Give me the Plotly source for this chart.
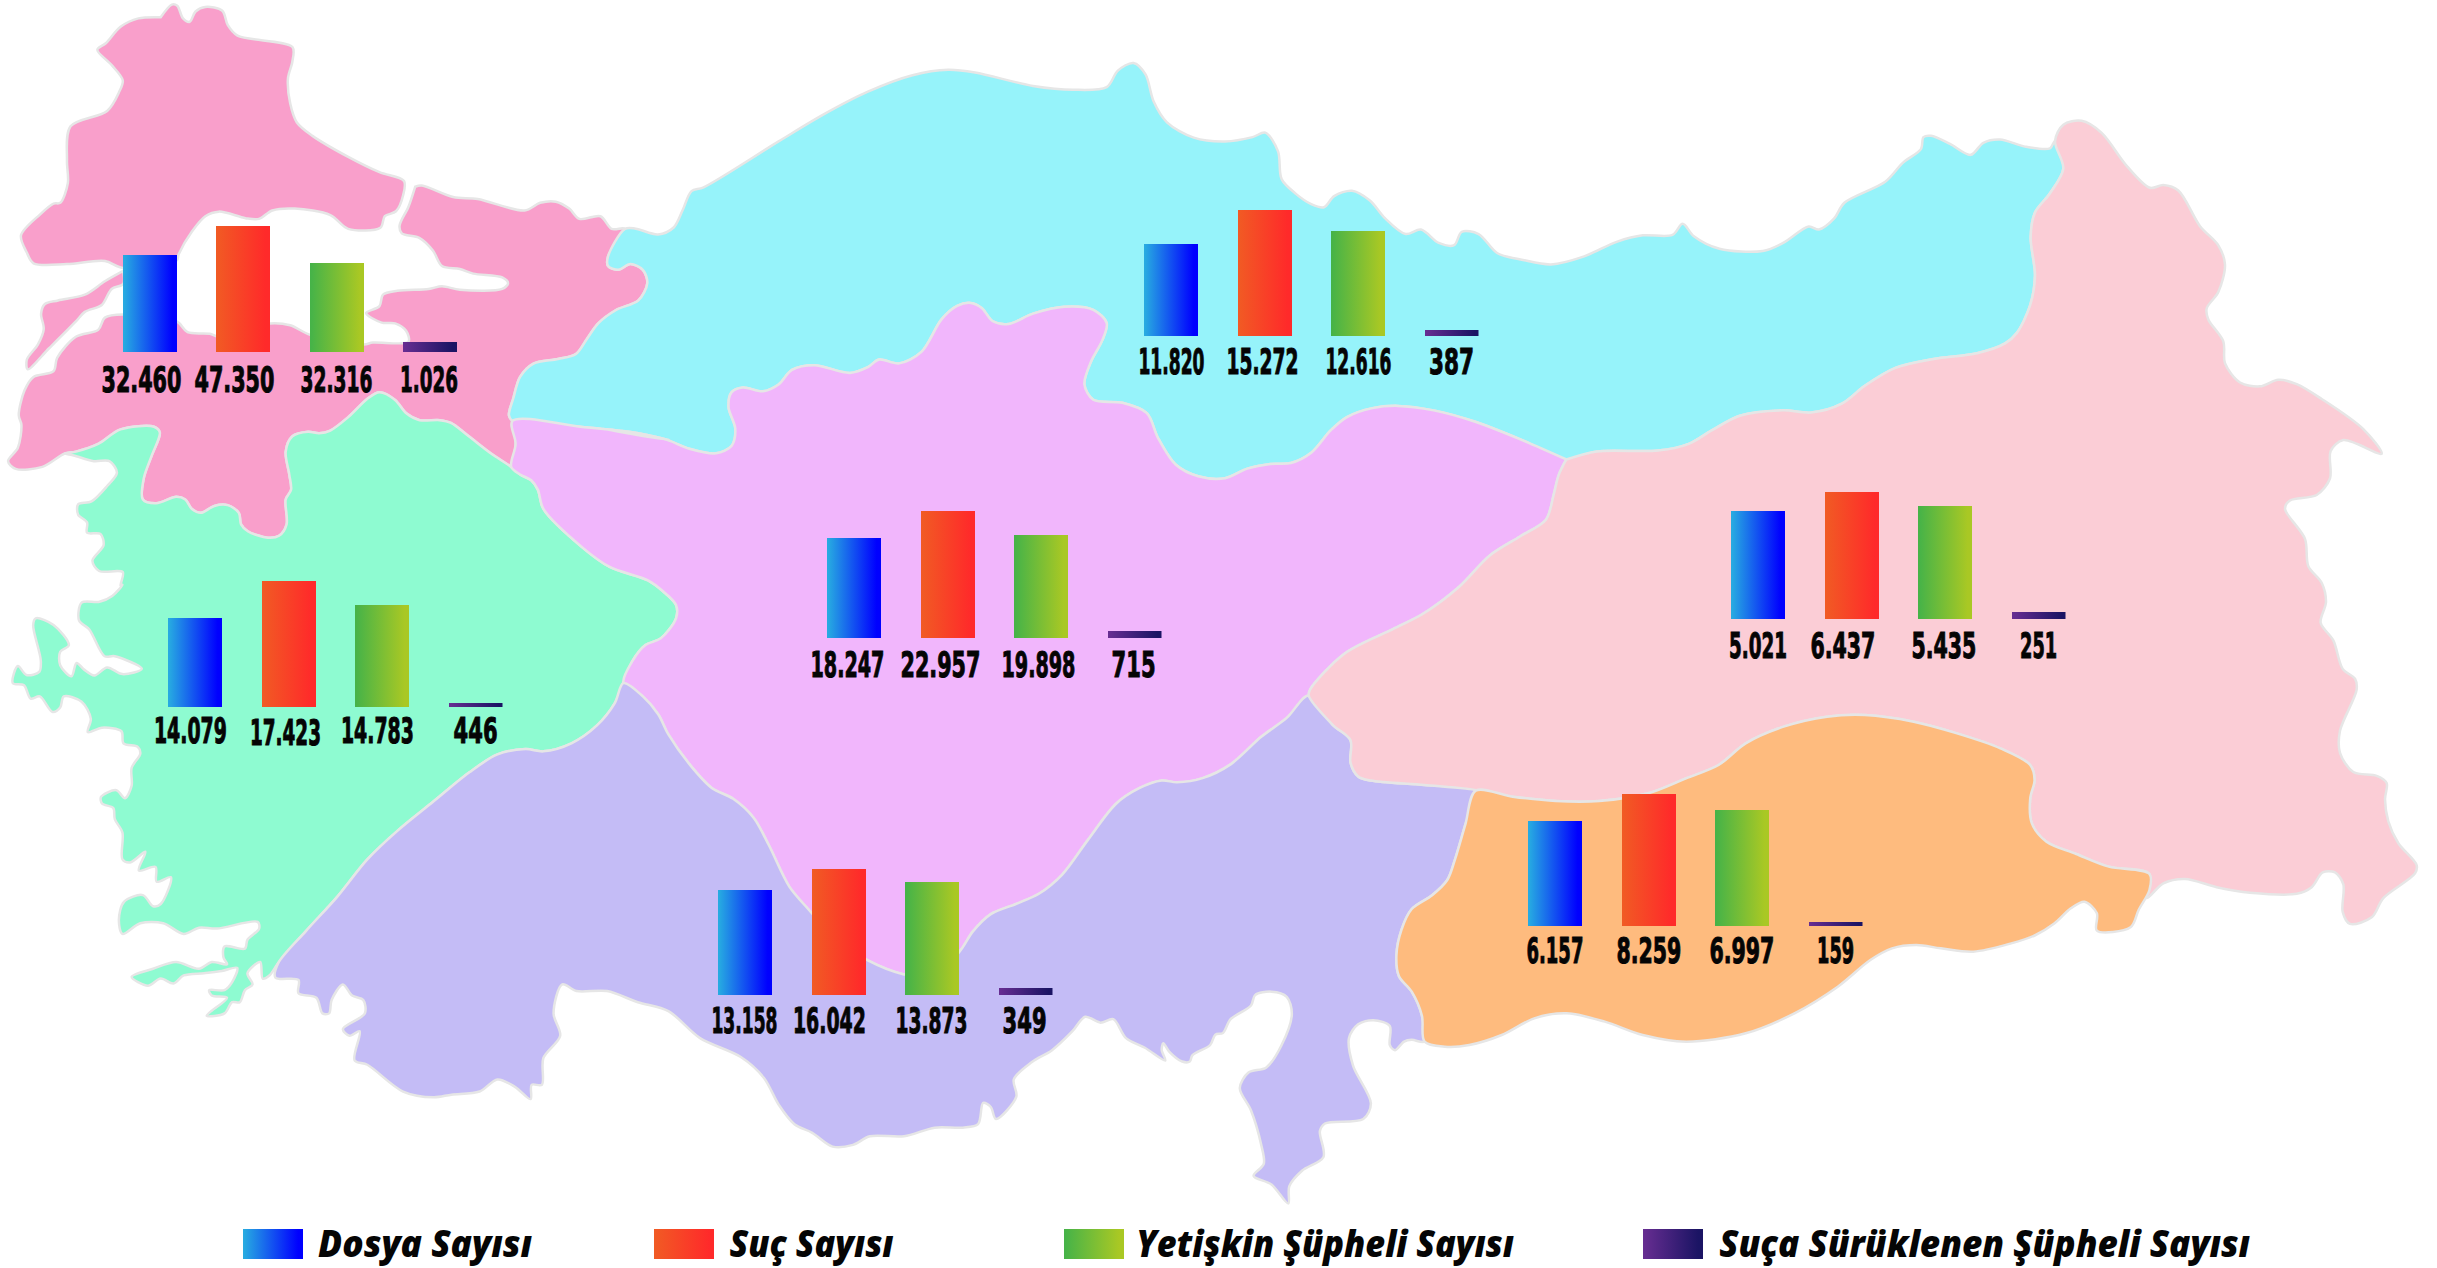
import json
import plotly.graph_objects as go

W, H = 2437, 1268

# ---------- data ----------
series_names = ["Dosya Sayısı", "Suç Sayısı", "Yetişkin Şüpheli Sayısı", "Suça Sürüklenen Şüpheli Sayısı"]
region_names = ["Marmara", "Ege", "Karadeniz", "İç Anadolu", "Akdeniz", "Doğu Anadolu", "Güneydoğu Anadolu"]
marmara_labels = ["32.460", "47.350", "32.316", "1.026"]
ege_labels = ["14.079", "17.423", "14.783", "446"]
karadeniz_labels = ["11.820", "15.272", "12.616", "387"]
ic_anadolu_labels = ["18.247", "22.957", "19.898", "715"]
akdeniz_labels = ["13.158", "16.042", "13.873", "349"]
dogu_labels = ["5.021", "6.437", "5.435", "251"]
guneydogu_labels = ["6.157", "8.259", "6.997", "159"]

# bar lengths (the drawing is not to a common scale)
marmara_bars = [97, 126, 89, 10]
ege_bars = [89, 126, 102, 4]
karadeniz_bars = [92, 126, 105, 6]
ic_anadolu_bars = [100, 127, 103, 7]
akdeniz_bars = [105, 126, 113, 7]
dogu_bars = [108, 127, 113, 7]
guneydogu_bars = [105, 132, 116, 4]

# ---------- layout of the small charts: left, pitch, bar width, baseline ----------
insets = [
    dict(name=region_names[0], bars=marmara_bars, labels=marmara_labels, left=123, pitch=93.3, width=54, base=352,
         label_x=[141, 234, 336, 429], label_y=[379] * 4, label_w=[80, 80, 72, 58]),
    dict(name=region_names[1], bars=ege_bars, labels=ege_labels, left=168, pitch=93.5, width=54, base=707,
         label_x=[190, 285, 377, 475], label_y=[730, 732, 730, 730], label_w=[73, 71, 73, 44]),
    dict(name=region_names[2], bars=karadeniz_bars, labels=karadeniz_labels, left=1144, pitch=93.5, width=54, base=336,
         label_x=[1171, 1262, 1358, 1451], label_y=[361] * 4, label_w=[66, 72, 66, 45]),
    dict(name=region_names[3], bars=ic_anadolu_bars, labels=ic_anadolu_labels, left=827, pitch=93.5, width=54, base=638,
         label_x=[847, 940, 1038, 1133], label_y=[664] * 4, label_w=[74, 80, 74, 44]),
    dict(name=region_names[4], bars=akdeniz_bars, labels=akdeniz_labels, left=718, pitch=93.5, width=54, base=995,
         label_x=[744, 829, 931, 1024], label_y=[1020] * 4, label_w=[66, 73, 72, 44]),
    dict(name=region_names[5], bars=dogu_bars, labels=dogu_labels, left=1731, pitch=93.5, width=54, base=619,
         label_x=[1758, 1843, 1944, 2038], label_y=[645] * 4, label_w=[58, 65, 65, 37]),
    dict(name=region_names[6], bars=guneydogu_bars, labels=guneydogu_labels, left=1528, pitch=93.5, width=54, base=926,
         label_x=[1555, 1649, 1742, 1835], label_y=[950] * 4, label_w=[57, 65, 65, 37]),
]
legend_x = [243, 654, 1064, 1643]
legend_text_center = [425, 811, 1325, 1984.5]
legend_text_w = [214, 164, 378, 531]
legend_swatch_w = 60

gradients = [["#27AAE1", "#0000FF"], ["#F15A24", "#FF2A2A"], ["#46B348", "#A9C824"], ["#662D91", "#1B1464"]]
flat_colors = ["#1455F0", "#F8402A", "#7ABD38", "#40207A"]

region_fill = {
    "Marmara": "#F99FCB", "Ege": "#8EFBD1", "Karadeniz": "#96F3FA", "İç Anadolu": "#F1B6FC",
    "Akdeniz": "#C4BCF6", "Doğu Anadolu": "#FBCDD6", "Güneydoğu Anadolu": "#FEBB7E",
}

# ---------- map outlines, traced in seven views of the picture ----------
def v(ox, oy, sx, sy):
    return lambda pts: [(ox + a / sx, oy + b / sy) for a, b in pts]

C1, C2 = v(0, 0, 2.24, 2.613), v(0, 500, 1.96, 2.24)
C3, C4 = v(600, 40, 2.24, 2.613), v(1250, 80, 1.96, 2.24)
C5, C6 = v(1950, 100, 3.0, 1.823), v(700, 680, 1.96, 2.904)
C7 = v(1350, 700, 1.845, 3.0)

thrace = C1([(360,45),(385,12),(397,15),(410,48),(425,57),(438,30),(460,18),(498,28),(510,65),(532,93),(655,123),(655,160),(645,205),(650,270),(665,320),(700,355),(780,410),(850,450),(905,473),(903,510),(887,552),(862,565),(852,595),(780,598),(740,562),(660,545),(610,550),(580,572),(550,570),(490,553),(460,565),(430,605),(400,665),(396,680),(275,700),(235,682),(150,690),(75,688),(60,660),(47,615),(90,560),(120,532),(135,530),(152,478),(150,420),(158,330),(240,290),(267,240),(275,210),(250,170),(218,130),(237,113),(270,70),(310,48),(360,45)])
gallipoli = C1([(276,708),(235,735),(190,770),(130,785),(100,795),(92,820),(98,860),(85,900),(60,940),(62,965),(110,910),(170,840),(190,815),(228,797),(250,755),(276,742),(276,708)])
m_north = C1([(930,488),(945,485),(1015,515),(1070,520),(1175,550),(1210,530),(1245,527),(1275,545),(1298,572),(1345,565),(1370,598)])
m_cyan = C1([(1400,598),(1362,670),(1362,695),(1385,705),(1412,690),(1440,705),(1450,740),(1430,785),(1380,810),(1340,845),(1315,885),(1290,925),(1250,938),(1195,950),(1165,985),(1150,1040),(1140,1085),(1148,1100)])
m_lilac = C1([(1155,1160),(1145,1220)])
m_mint = C1([(1145,1220),(1100,1185),(1050,1140),(1010,1105),(985,1098),(940,1098),(910,1080),(885,1045),(850,1025),(825,1040),(780,1090),(740,1125),(715,1132),(690,1128),(655,1140),(640,1180),(648,1240),(652,1280),(640,1305),(642,1370),(625,1400),(600,1405),(555,1388),(540,1370),(535,1340),(510,1320),(480,1322),(450,1340),(430,1330),(415,1305),(395,1298),(350,1315),(320,1305),(322,1250),(340,1190),(358,1130),(345,1115),(270,1122),(220,1160),(170,1180),(145,1185)])
m_south = C1([(95,1220),(35,1225),(18,1205),(40,1170),(48,1110),(42,1085),(55,1020),(75,985),(120,970),(128,935),(170,880),(220,862),(235,830),(276,822),(396,840),(420,868),(470,872),(490,880),(605,845),(650,850),(695,875),(815,900),(835,895),(915,893),(910,865),(885,845),(855,843),(820,818),(850,800),(858,770),(890,760),(960,755),(990,748),(1030,757),(1125,755),(1138,740),(1125,725),(1060,715),(1030,703),(990,695),(970,655),(940,622),(900,610),(895,590),(915,540),(930,488)])

mint_coast = C1([(165,1190),(210,1205),(245,1205),(262,1235),(240,1270),(205,1310),(175,1318),(175,1345),(195,1365),(195,1392),(225,1395),(232,1425),(207,1465),(222,1492),(275,1495),(270,1530)]) + C2([(240,190),(220,215),(195,228),(160,230),(155,270),(175,290),(205,350),(225,350),(278,378),(240,390),(210,375),(185,393),(165,380),(150,365),(140,395),(118,370),(118,340),(135,325),(105,280),(70,265),(65,280),(80,360),(77,385),(52,392),(35,372),(25,410),(47,415),(60,445),(78,440),(103,475),(118,465),(125,440),(160,452),(178,490),(172,520),(200,510),(238,518),(242,545),(270,553),(275,568),(258,600),(258,640),(245,668),(228,650),(198,665),(200,680),(222,690),(225,715),(240,745),(240,805),(255,812),(285,788),(272,830),(305,822),(307,855),(335,845),(315,905),(300,910),(280,885),(243,900),(233,940),(240,972),(275,948),(320,948),(360,972),(390,958),(425,960),(505,945),(508,960),(485,985),(480,1005),(440,1000),(438,1025),(445,1040),(415,1035),(390,1050),(345,1035),(300,1050),(258,1068),(290,1088),(315,1072),(340,1083),(360,1065),(400,1060),(435,1055),(465,1048),(455,1080),(440,1098),(410,1098),(415,1110),(445,1115),(405,1155),(440,1150),(455,1125),(470,1125),(480,1098),(495,1085),(485,1060),(510,1035),(515,1072),(528,1065)])
mint_violet = C2([(545,1038),(600,965),(660,890),(720,805),(780,740),(850,675),(920,610),(975,570),(1030,558),(1065,563),(1120,545),(1170,505),(1205,455),(1222,410)])
mint_lilac = C2([(1240,360),(1265,325),(1295,310),(1325,265),(1325,235),(1300,205),(1270,180),(1195,150),(1140,105),(1065,20)]) + C1([(1205,1280),(1190,1255),(1165,1240)])

cyan_lilac = C1([(1300,1115),(1420,1130),(1500,1150)]) + C3([(0,1015),(80,1028),(150,1045),(200,1068),(260,1080),(295,1060),(303,1015),(288,960),(295,920),(320,908),(365,918),(400,900),(430,862),(480,850),(560,870),(600,855),(625,835),(670,845),(720,815),(765,730),(800,695),(830,687),(855,700),(880,735),(915,742),(970,715),(1040,697),(1105,705),(1135,740),(1125,785),(1100,840),(1085,900),(1105,940),(1170,948),(1225,975),(1250,1040),(1290,1110),(1340,1140),(1400,1145),(1450,1120)]) + C4([(40,860),(80,858),(120,835),(158,785),(190,755),(240,735),(290,730),(360,740),(440,765),(530,805),(620,850)])
cyan_pink = C4([(680,832),(800,830),(860,815),(905,785),(960,752),(1045,740),(1100,745),(1160,725),(1205,685),(1265,645),(1340,625),(1425,612),(1480,590)]) + C5([(200,425),(240,375),(255,320),(242,250),(255,205),(300,170),(340,125),(315,75)])
cyan_coast = C5([(300,88),(225,85),(150,72),(100,78),(62,100),(0,80)]) + C4([(1335,125),(1320,128),(1315,155),(1280,185),(1245,228),(1165,275),(1145,310),(1115,335),(1095,328),(1045,365),(1005,383),(920,378),(870,350),(848,322),(828,347),(770,348),(720,362),(655,395),(590,413),(535,403),(485,388),(448,345),(415,340),(400,370),(370,365),(335,335),(305,345),(265,310),(235,270),(200,248),(165,260),(145,285),(120,278),(90,255),(62,222),(55,160),(30,118),(5,128)]) + C3([(1400,265),(1330,255),(1270,215),(1240,160),(1222,90),(1195,60),(1160,80),(1135,123),(1060,130),(970,120),(840,85),(780,78),(700,92),(600,135),(500,195),(400,265),(232,385),(205,395),(185,445),(165,490),(130,508),(80,493)])

lilac_violet = C2([(1260,440),(1290,480),(1310,525),(1350,590),(1395,645)]) + C6([(65,345),(105,400),(135,480),(175,600),(215,670),(260,745),(330,815),(400,855),(450,860),(508,790),(535,730),(570,680),(620,650),(665,620),(710,565),(760,465),(815,360),(860,315),(905,292),(935,297),(985,285),(1040,245),(1100,165),(1150,110),(1193,45)])
lilac_pink = C4([(118,1365),(185,1285),(280,1230),(340,1195),(410,1135),(470,1065),(530,1022),(580,985),(595,930),(605,885),(620,850)])
violet_pink = C6([(1240,130),(1275,175),(1275,240),(1290,280),(1315,292),(1420,305),(1520,320)])
orange_violet = C6([(1500,420),(1480,520),(1465,580),(1435,625),(1395,665),(1375,725),(1365,800),(1370,860),(1395,905),(1415,975),(1420,1050)])
violet_coast = C6([(1395,1045),(1380,1050),(1362,1075),(1352,1060),(1352,1005),(1320,988),(1290,1000),(1272,1040),(1280,1120),(1315,1230),(1300,1275),(1225,1288),(1215,1310),(1222,1385),(1180,1425),(1155,1470),(1153,1520),(1120,1465),(1085,1440),(1105,1405),(1100,1350),(1080,1250),(1058,1185),(1075,1140),(1110,1125),(1140,1060),(1160,970),(1150,920),(1120,905),(1088,915),(1080,945),(1040,985),(1025,1025),(1010,1030),(1000,1060),(965,1090),(960,1108),(945,1108),(920,1080),(908,1055),(905,1075),(912,1105),(872,1068),(835,1040),(810,985),(785,995),(755,978),(730,1020),(690,1075),(650,1110),(615,1160),(620,1210),(580,1275),(570,1240),(555,1228),(545,1290),(515,1300),(460,1300),(400,1325),(333,1325),(300,1350),(260,1355),(220,1315),(185,1290),(155,1235),(125,1155),(80,1095),(0,1040)]) + C2([(1310,1145),(1250,1125),(1190,1100),(1130,1100),(1102,1085),(1085,1150),(1098,1200),(1065,1250),(1062,1310),(1042,1310),(1040,1342),(1010,1315),(975,1298),(940,1325),(885,1332),(850,1338),(790,1325),(720,1265),(695,1255),(705,1190),(685,1200),(672,1185),(715,1150),(712,1120),(690,1110),(672,1085),(650,1120),(645,1150),(632,1150),(620,1115),(585,1105),(585,1075),(540,1070)])

orange_pink = C7([(232,272),(300,290),(380,303),(460,303),(550,280),(620,235),(680,195),(730,130),(800,80),(880,50),(950,45),(1040,65),(1120,100),(1200,145),(1255,195),(1263,240),(1255,295),(1258,370),(1285,425),(1340,462),(1400,500),(1475,522)])
orange_coast = C7([(1475,570),(1455,630),(1440,682),(1378,692),(1378,640),(1355,605),(1330,625),(1300,670),(1265,705),(1220,730),(1150,755),(1090,745),(1045,735),(1000,745),(960,780),(900,860),(820,940),(730,1000),(620,1025),(540,1005),(470,965),(400,940),(340,955),(280,1005),(220,1035),(175,1040)])
pink_coast = C5([(340,45),(395,38),(455,60),(530,120),(600,160),(640,155),(685,165),(750,230),(805,265),(825,300),(805,350),(770,380),(775,400),(820,440),(825,480),(870,515),(930,522),(985,510),(1040,518),(1115,545),(1240,600),(1295,645),(1180,620),(1142,640),(1140,690),(1100,720),(1020,730),(1005,745),(1065,800),(1075,850),(1115,880),(1128,915),(1112,953),(1150,985),(1178,1037),(1215,1055),(1220,1075),(1170,1150),(1170,1190),(1210,1225),(1280,1232),(1310,1245),(1305,1275),(1315,1315),(1345,1355),(1400,1395),(1395,1410),(1300,1455),(1265,1490),(1200,1502),(1178,1480),(1180,1430),(1155,1408),(1118,1408),(1085,1435),(1040,1447),(900,1445),(800,1435),(705,1420),(640,1428),(590,1455)])

rev = lambda s: s[::-1]
outlines = {
    "Marmara": [thrace, gallipoli, m_north + m_cyan + m_lilac + m_mint + m_south],
    "Ege": [mint_coast + mint_violet + mint_lilac + m_mint],
    "Karadeniz": [cyan_coast + m_cyan + cyan_lilac + cyan_pink],
    "İç Anadolu": [m_cyan[-1:] + m_lilac + rev(mint_lilac) + mint_violet[-1:] + lilac_violet + lilac_pink + rev(cyan_lilac)],
    "Akdeniz": [mint_violet + lilac_violet + violet_pink + orange_violet + violet_coast],
    "Doğu Anadolu": [cyan_lilac[-1:] + cyan_pink + pink_coast + rev(orange_pink) + rev(violet_pink) + lilac_violet[-1:] + lilac_pink],
    "Güneydoğu Anadolu": [orange_pink + orange_coast + rev(orange_violet)],
}

fig = go.Figure()

# ---------- regions on a base axis that runs over the whole page ----------
for name in region_names:
    xs, ys = [], []
    for poly in outlines[name]:
        closed = poly + poly[:1]
        xs += [p[0] for p in closed] + [None]
        ys += [p[1] for p in closed] + [None]
    fig.add_trace(go.Scatter(
        x=xs[:-1], y=ys[:-1], mode="lines", name=name, fill="toself", fillcolor=region_fill[name],
        line=dict(color="#E6E6E6", width=2.5, shape="spline", smoothing=0.9),
        hoverinfo="name", showlegend=False, xaxis="x", yaxis="y",
    ))

layout_axes = dict(
    xaxis=dict(domain=[0, 1], range=[0, W], visible=False, fixedrange=True),
    yaxis=dict(domain=[0, 1], range=[H, 0], visible=False, fixedrange=True),
)
ann = []
text_widths = []
label_font = dict(family="DejaVu Sans, sans-serif", size=36, color="#050505", weight=700)

# ---------- one small bar chart per region ----------
axis_h = 150
for i, ins in enumerate(insets):
    n = i + 2
    w_rel = ins["width"] / ins["pitch"]
    right = ins["left"] + 3 * ins["pitch"] + ins["width"]
    fig.add_trace(go.Bar(
        x=[0, 1, 2, 3], y=ins["bars"], width=w_rel, name=ins["name"], marker=dict(color=flat_colors, line=dict(width=0)),
        customdata=ins["labels"], text=series_names, textposition="none",
        hovertemplate="%{text}: %{customdata}<extra>" + ins["name"] + "</extra>",
        showlegend=False, xaxis=f"x{n}", yaxis=f"y{n}",
    ))
    layout_axes[f"xaxis{n}"] = dict(domain=[ins["left"] / W, right / W], range=[-w_rel / 2, 3 + w_rel / 2],
                                    visible=False, fixedrange=True, anchor=f"y{n}")
    layout_axes[f"yaxis{n}"] = dict(domain=[1 - ins["base"] / H, 1 - (ins["base"] - axis_h) / H], range=[0, axis_h],
                                    visible=False, fixedrange=True, anchor=f"x{n}")
    for lx, ly, txt, lw in zip(ins["label_x"], ins["label_y"], ins["labels"], ins["label_w"]):
        ann.append(dict(x=lx, y=ly, xref="x", yref="y", text=txt, showarrow=False, font=label_font,
                        xanchor="center", yanchor="middle"))
        text_widths.append(lw)

# ---------- legend: swatches as bars on their own axis, text beside them ----------
n = len(insets) + 2
fig.add_trace(go.Bar(
    x=[a + legend_swatch_w / 2 for a in legend_x], y=[1] * 4, width=legend_swatch_w, name="Lejant",
    marker=dict(color=flat_colors, line=dict(width=0)), hoverinfo="skip", showlegend=False,
    xaxis=f"x{n}", yaxis=f"y{n}",
))
layout_axes[f"xaxis{n}"] = dict(domain=[0, 1], range=[0, W], visible=False, fixedrange=True, anchor=f"y{n}")
layout_axes[f"yaxis{n}"] = dict(domain=[1 - 1259 / H, 1 - 1229 / H], range=[0, 1], visible=False, fixedrange=True, anchor=f"x{n}")
for tc, name, tw in zip(legend_text_center, series_names, legend_text_w):
    ann.append(dict(x=tc, y=1242, xref="x", yref="y", text=name, showarrow=False, xanchor="center", yanchor="middle",
                    font=dict(family="Open Sans, sans-serif", size=37, color="#050505", weight=800, style="italic")))
    text_widths.append(tw)

fig.update_layout(width=W, height=H, autosize=False, margin=dict(l=0, r=0, t=0, b=0), paper_bgcolor="white",
                  plot_bgcolor="rgba(0,0,0,0)", showlegend=False, annotations=ann, bargap=0, **layout_axes)

# plotly bars take one flat colour, so the left-to-right gradient of the original is set on the drawn bars;
# the condensed lettering of the original is matched by scaling each real text to its measured width
post = """
document.body.style.margin = '0';
document.body.style.overflow = 'hidden';
var gd = document.getElementById('{plot_id}');
var NS = 'http://www.w3.org/2000/svg';
var svg = gd.querySelector('.main-svg');
var defs = document.createElementNS(NS, 'defs');
GRADS.forEach(function (g, i) {
  var lg = document.createElementNS(NS, 'linearGradient');
  lg.setAttribute('id', 'bargrad' + i);
  lg.setAttribute('x1', '0'); lg.setAttribute('x2', '1'); lg.setAttribute('y1', '0'); lg.setAttribute('y2', '0');
  g.forEach(function (c, k) {
    var s = document.createElementNS(NS, 'stop');
    s.setAttribute('offset', k === 0 ? '0.02' : '0.92'); s.setAttribute('stop-color', c);
    lg.appendChild(s);
  });
  defs.appendChild(lg);
});
svg.appendChild(defs);
gd.querySelectorAll('.barlayer .trace').forEach(function (t) {
  t.querySelectorAll('.point path').forEach(function (p, i) { p.style.fill = 'url(#bargrad' + i + ')'; });
});
var widths = TEXTW;
gd.querySelectorAll('.annotation-text').forEach(function (t, i) {
  var k = widths[i] / t.getComputedTextLength();
  var cx = parseFloat(t.getAttribute('x')) || 0;
  var old = t.getAttribute('transform') || '';
  t.setAttribute('transform', old + ' translate(' + cx + ',0) scale(' + k + ',1) translate(' + (-cx) + ',0)');
  if (i < 28) { t.style.stroke = '#050505'; t.style.strokeWidth = '1.1px'; }
});
""".replace("GRADS", json.dumps(gradients)).replace("TEXTW", json.dumps(text_widths))

fig.write_html("out.html", post_script=post, config={"displayModeBar": False})
